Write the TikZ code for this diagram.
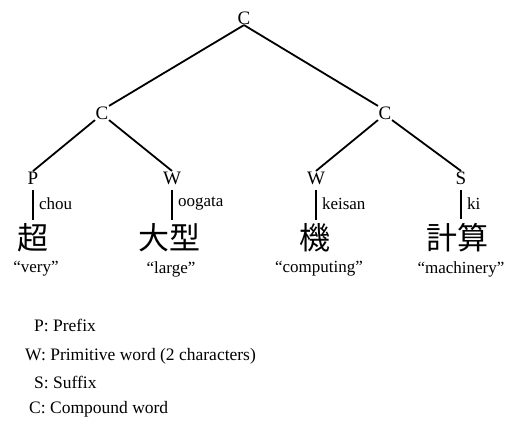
\documentclass[tikz,border=0pt]{standalone}
\usepackage{fontspec}
\setmainfont{Liberation Serif}
\newfontfamily\cjk{Noto Sans CJK JP}
\begin{document}
\begin{tikzpicture}[x=1pt,y=-1pt,
  cat/.style={inner sep=0.5pt,font=\fontsize{19}{21}\selectfont},
  kanji/.style={inner sep=1pt,font=\cjk\fontsize{31}{33}\selectfont},
  gloss/.style={inner sep=0pt,font=\fontsize{17}{19}\selectfont},
  rom/.style={inner sep=0pt,font=\fontsize{17}{19}\selectfont,anchor=west},
  legend/.style={inner sep=0pt,font=\fontsize{17.5}{19}\selectfont,anchor=base west},
  edge/.style={line width=1.8pt},
  stem/.style={line width=2pt,shorten <=5pt,shorten >=3pt}]
\useasboundingbox (0,0) rectangle (508,425);
% tree nodes
\node[cat] (root) at (244,18) {C};
\node[cat] (lc) at (102,113) {C};
\node[cat] (rc) at (385,113) {C};
\node[cat] (p) at (33,178) {P};
\node[cat] (w1) at (172,178) {W};
\node[cat] (w2) at (316,178) {W};
\node[cat] (s) at (461,178) {S};
% kanji
\node[kanji] (k1) at (33,238) {超};
\node[kanji] (k2) at (169,238) {大型};
\node[kanji] (k3) at (315,238) {機};
\node[kanji] (k4) at (457,238) {計算};
% glosses
\node[gloss] (g1) at (36,269) {``very''};
\node[gloss] (g2) at (171,269) {``large''};
\node[gloss] (g3) at (319,269) {``computing''};
\node[gloss] (g4) at (461,269) {``machinery''};
% edges
\draw[edge] (root.south) -- (lc.north east);
\draw[edge] (root.south) -- (rc.north west);
\draw[edge] (lc.south west) -- (p.north);
\draw[edge] (lc.south east) -- (w1.north);
\draw[edge] (rc.south west) -- (w2.north);
\draw[edge] (rc.south east) -- (s.north);
% stems
\draw[stem] (p.south) -- (p.south |- k1.north) node[rom,midway,xshift=5pt] {chou};
\draw[stem] (w1.south) -- (w1.south |- k2.north) node[rom,midway,xshift=5pt] {oogata};
\draw[stem] (w2.south) -- (w2.south |- k3.north) node[rom,midway,xshift=5pt] {keisan};
\draw[stem] (s.south) -- (s.south |- k4.north) node[rom,midway,xshift=5pt] {ki};
% legend
\node[legend] (l1) at (34,331) {P: Prefix};
\node[legend] (l2) at (25,360) {W: Primitive word (2 characters)};
\node[legend] (l3) at (34,388) {S: Suffix};
\node[legend] (l4) at (29,413) {C: Compound word};
\end{tikzpicture}
\end{document}
